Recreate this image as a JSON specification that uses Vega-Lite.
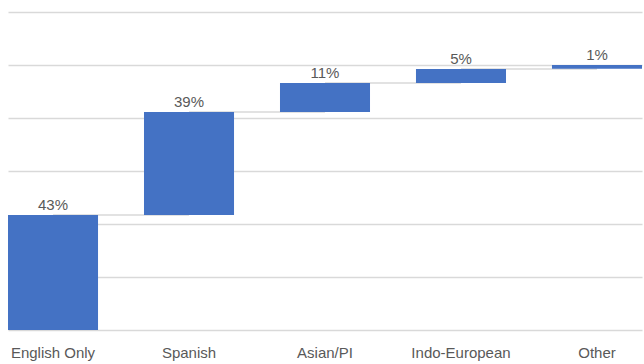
{
  "$schema": "https://vega.github.io/schema/vega-lite/v6.json",
  "width": 644,
  "height": 318,
  "autosize": {"type": "none"},
  "padding": {"left": 0, "top": 12, "right": 0, "bottom": 34},
  "background": "white",
  "config": {"view": {"stroke": null}, "font": "Liberation Sans"},
  "data": {
    "values": [
      {"cat": "English Only", "start": 0, "end": 43.4, "label": "43%", "next": "Spanish"},
      {"cat": "Spanish", "start": 43.4, "end": 82.3, "label": "39%", "next": "Asian/PI"},
      {"cat": "Asian/PI", "start": 82.3, "end": 93.2, "label": "11%", "next": "Indo-European"},
      {"cat": "Indo-European", "start": 93.2, "end": 98.5, "label": "5%", "next": "Other"},
      {"cat": "Other", "start": 98.6, "end": 100, "label": "1%", "next": null}
    ]
  },
  "encoding": {
    "x": {
      "field": "cat",
      "type": "nominal",
      "sort": null,
      "title": null,
      "scale": {"paddingInner": 0.338, "paddingOuter": 0, "range": [8, 642]},
      "axis": {"domain": false, "ticks": false, "labelAngle": 0, "labelFontSize": 15, "labelColor": "#595959", "labelPadding": 15, "grid": false}
    }
  },
  "layer": [
    {
      "transform": [{"filter": "datum.next != null"}],
      "mark": {"type": "rule", "color": "#d9d9d9", "strokeWidth": 1.5},
      "encoding": {
        "x2": {"field": "next"},
        "y": {"field": "end", "type": "quantitative", "scale": {"domain": [0, 120], "nice": false}, "axis": {"title": null, "labels": false, "ticks": false, "domain": false, "values": [0, 20, 40, 60, 80, 100, 120], "gridColor": "#d9d9d9", "gridWidth": 1.5}}
      }
    },
    {
      "mark": {"type": "bar", "color": "#4472C4"},
      "encoding": {
        "y": {"field": "start", "type": "quantitative", "axis": {"title": null, "labels": false, "ticks": false, "domain": false, "values": [0, 20, 40, 60, 80, 100, 120], "gridColor": "#d9d9d9", "gridWidth": 1.5}},
        "y2": {"field": "end"}
      }
    },
    {
      "mark": {"type": "text", "baseline": "bottom", "dy": -2, "fontSize": 15, "color": "#595959"},
      "encoding": {
        "y": {"field": "end", "type": "quantitative", "axis": {"title": null, "labels": false, "ticks": false, "domain": false, "values": [0, 20, 40, 60, 80, 100, 120], "gridColor": "#d9d9d9", "gridWidth": 1.5}},
        "text": {"field": "label"}
      }
    }
  ]
}
